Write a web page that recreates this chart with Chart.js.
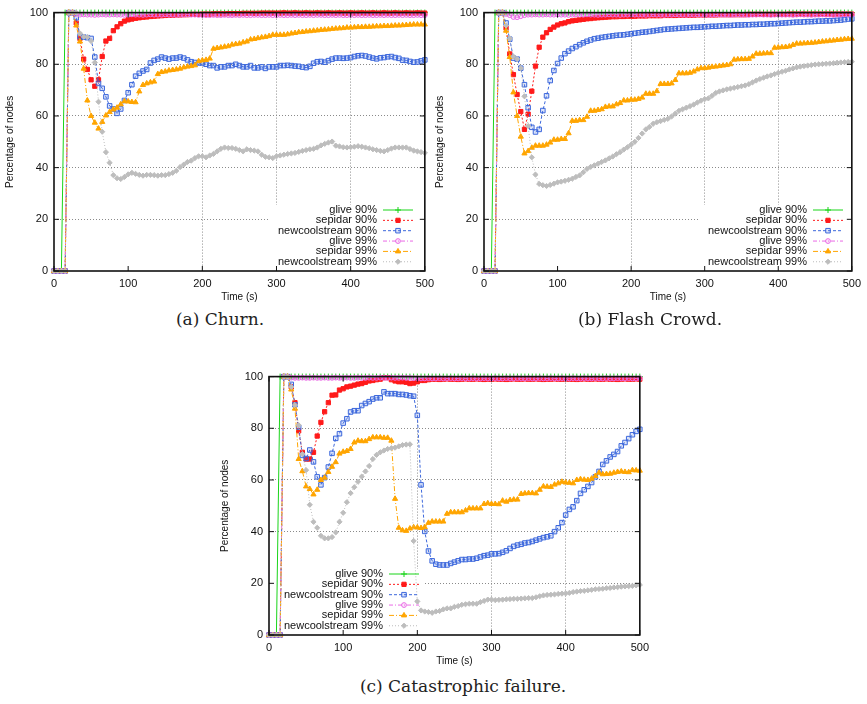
<!DOCTYPE html>
<html>
<head>
<meta charset="utf-8">
<script src="https://cdn.jsdelivr.net/npm/chart.js@4.4.1/dist/chart.umd.min.js"></script>
<style>
  html, body { margin: 0; padding: 0; background: #fff; }
  body { width: 867px; height: 704px; position: relative; overflow: hidden; }
  canvas { position: absolute; }
  .caption {
    position: absolute;
    font-family: "DejaVu Serif", serif;
    font-size: 17px;
    line-height: 20px;
    color: #222;
    transform: translateX(-50%);
    white-space: nowrap;
  }
</style>
</head>
<body>
<canvas id="chart-churn" width="440" height="305" style="left:0;top:0"></canvas>
<canvas id="chart-flash" width="437" height="305" style="left:430px;top:0"></canvas>
<canvas id="chart-failure" width="440" height="305" style="left:215px;top:364px"></canvas>
<div class="caption" style="left:220px;top:309px">(a) Churn.</div>
<div class="caption" style="left:650px;top:309px">(b) Flash Crowd.</div>
<div class="caption" style="left:463px;top:676px">(c) Catastrophic failure.</div>
<script>
const TIME = [
  0, 5, 10, 15, 20, 25, 30, 35, 40, 45,
  50, 55, 60, 65, 70, 75, 80, 85, 90, 95,
  100, 105, 110, 115, 120, 125, 130, 135, 140, 145,
  150, 155, 160, 165, 170, 175, 180, 185, 190, 195,
  200, 205, 210, 215, 220, 225, 230, 235, 240, 245,
  250, 255, 260, 265, 270, 275, 280, 285, 290, 295,
  300, 305, 310, 315, 320, 325, 330, 335, 340, 345,
  350, 355, 360, 365, 370, 375, 380, 385, 390, 395,
  400, 405, 410, 415, 420, 425, 430, 435, 440, 445,
  450, 455, 460, 465, 470, 475, 480, 485, 490, 495,
  500
];
const X_TICKS = [0, 100, 200, 300, 400, 500];
const Y_TICKS = [0, 20, 40, 60, 80, 100];
const SERIES_LABELS = [
  "glive 90%", "sepidar 90%", "newcoolstream 90%",
  "glive 99%", "sepidar 99%", "newcoolstream 99%"
];

// glive 90% is the same step in all three runs
const GLIVE90 = [
  0, 0, 0, 100, 100, 100, 100, 100, 100, 100,
  100, 100, 100, 100, 100, 100, 100, 100, 100, 100,
  100, 100, 100, 100, 100, 100, 100, 100, 100, 100,
  100, 100, 100, 100, 100, 100, 100, 100, 100, 100,
  100, 100, 100, 100, 100, 100, 100, 100, 100, 100,
  100, 100, 100, 100, 100, 100, 100, 100, 100, 100,
  100, 100, 100, 100, 100, 100, 100, 100, 100, 100,
  100, 100, 100, 100, 100, 100, 100, 100, 100, 100,
  100, 100, 100, 100, 100, 100, 100, 100, 100, 100,
  100, 100, 100, 100, 100, 100, 100, 100, 100, 100,
  100
];

// (a) churn
const CHURN_SEPIDAR90 = [
  0, 0, 0, 0, 100, 100, 96, 90, 82, 78,
  74, 71.5, 74, 83, 89, 90, 93, 94.5, 95.7, 96.7,
  97.2, 97.5, 97.8, 98, 98.2, 98.3, 98.5, 98.6, 98.7, 98.8,
  98.9, 99, 99, 99.1, 99.1, 99.2, 99.2, 99.3, 99.3, 99.3,
  99.4, 99.4, 99.4, 99.5, 99.5, 99.5, 99.5, 99.6, 99.6, 99.6,
  99.6, 99.7, 99.7, 99.7, 99.7, 99.7, 99.8, 99.8, 99.8, 99.8,
  99.8, 99.8, 99.9, 99.8, 99.8, 99.9, 99.8, 99.8, 99.9, 99.8,
  99.8, 99.9, 99.8, 99.8, 99.9, 99.8, 99.8, 99.9, 99.8, 99.8,
  99.9, 99.8, 99.8, 99.9, 99.8, 99.8, 99.9, 99.8, 99.8, 99.9,
  99.8, 99.8, 99.9, 99.8, 99.8, 99.9, 99.8, 99.8, 99.9, 99.8,
  99.8
];
const CHURN_NCS90 = [
  0, 0, 0, 0, 100, 100, 98, 90.7, 90.5, 90.3,
  90, 82.8, 72.6, 70.7, 67.4, 63.9, 62.7, 61, 62.7, 66,
  69, 72.1, 75.4, 76.5, 77.4, 78, 80.5, 81.5, 82, 82.8,
  82.4, 82, 82.4, 82.4, 82.8, 82.4, 81.7, 81, 80.7, 80.5,
  80.5, 80, 79.5, 79.5, 78.6, 79, 79, 79.5, 79.5, 80,
  79.5, 79, 79, 79.5, 78.6, 78.6, 79, 78.4, 79, 79,
  79, 79.5, 79.5, 79.6, 79.5, 79.3, 79.2, 78.9, 78.7, 79.2,
  80.4, 81, 81.1, 80.8, 81.4, 82, 82.4, 82.4, 82.3, 82.4,
  82.6, 83, 83.3, 83.4, 83.2, 82.8, 82.4, 82.1, 82.5, 82.6,
  82.9, 83, 82.6, 82.3, 81.6, 81.5, 81.1, 80.8, 80.9, 81.3,
  81.7
];
const CHURN_GLIVE99 = [
  0, 0, 0, 0, 100, 100, 99.5, 99.2, 99.3, 99.2,
  99.2, 99.1, 99.2, 99.3, 99.2, 99.2, 99.3, 99.2, 99.2, 99.1,
  99.2, 99.3, 99.2, 99.2, 99.1, 99.2, 99.3, 99.2, 99.2, 99.2,
  99.3, 99.2, 99.2, 99.1, 99.2, 99.2, 99.3, 99.2, 99.2, 99.1,
  99.1, 99, 99, 99.1, 99, 99, 99.1, 99, 99, 99.1,
  99, 99.1, 99, 99, 99.1, 99.1, 99, 99, 99.1, 99,
  99, 99.1, 99, 99, 99.1, 99, 99.1, 99, 99, 99.1,
  99, 99.1, 99.1, 99, 99, 99.1, 99, 99.1, 99, 99,
  99.1, 99, 99.1, 99, 99, 99.1, 99, 99, 99.1, 99,
  99.1, 99, 99, 99.1, 99, 99.1, 99, 99, 99.1, 99,
  99
];
const CHURN_SEPIDAR99 = [
  0, 0, 0, 0, 100, 100, 95, 88.8, 78.3, 66,
  60, 57.4, 55.1, 57.7, 60.2, 61.5, 62.5, 63.2, 64.5, 65.7,
  65.6, 65.4, 65.3, 69.5, 72, 72.6, 73, 73.3, 76.2, 77,
  77.2, 77.6, 77.8, 78, 78.3, 78.8, 79.1, 79.3, 79.6, 81.2,
  81.5, 81.7, 82.2, 86, 86.3, 86.5, 86.8, 87, 87.6, 87.8,
  88, 88.5, 88.8, 89.6, 89.8, 90.1, 90.4, 90.6, 90.9, 91.4,
  91.4, 91.4, 91.4, 91.6, 91.9, 92.1, 92.4, 92.5, 92.7, 92.8,
  93, 93.1, 93.3, 93.4, 93.5, 93.7, 93.8, 93.9, 94, 94.2,
  94.2, 94.3, 94.4, 94.4, 94.5, 94.5, 94.6, 94.7, 94.7, 94.8,
  94.8, 94.9, 95, 95, 95.1, 95.2, 95.3, 95.4, 95.4, 95.4,
  95.4
];
const CHURN_NCS99 = [
  0, 0, 0, 0, 100, 100, 100, 92, 90.7, 90.5,
  89, 80.7, 65.5, 53.9, 46, 41.9, 37.1, 35.9, 35.6, 36.4,
  37.4, 38, 37.6, 37.2, 36.9, 37.2, 37.2, 37.1, 36.9, 37.1,
  37.1, 37.5, 38, 38.8, 40.2, 41.2, 42.2, 42.7, 43.7, 44.4,
  44.4, 44, 44.7, 45.3, 46.3, 47.3, 47.8, 47.6, 47.6, 47.3,
  46.8, 46.3, 47.1, 46.8, 46.6, 46.3, 45, 44.2, 44, 43.7,
  44.4, 44.7, 45, 45.3, 45.5, 45.7, 46.1, 46.5, 46.8, 47.1,
  47.3, 47.8, 48.6, 49.2, 49.7, 50.1, 48.5, 48.2, 47.9, 47.8,
  47.9, 48.1, 48.3, 48.1, 47.8, 47.5, 47.1, 46.8, 46.5, 46.3,
  46.8, 47.4, 47.8, 47.8, 47.8, 47.8, 47.2, 46.6, 46.3, 46,
  45.7
];

// (b) flash crowd
const FLASH_SEPIDAR90 = [
  0, 0, 0, 0, 100, 100, 94, 84, 76, 68.3,
  61.7, 54.8, 60.7, 69.6, 79.3, 86.6, 90.5, 92.2, 93.5, 94.4,
  95.2, 95.7, 96, 96.5, 96.8, 97, 97.2, 97.4, 97.6, 97.7,
  97.9, 98, 98.1, 98.2, 98.3, 98.4, 98.4, 98.5, 98.5, 98.6,
  98.6, 98.6, 98.7, 98.7, 98.7, 98.8, 98.8, 98.8, 98.8, 98.9,
  98.9, 98.9, 98.9, 99, 99, 99, 99, 99, 99.1, 99.1,
  99.1, 99.1, 99.1, 99.1, 99.2, 99.2, 99.2, 99.2, 99.2, 99.2,
  99.2, 99.2, 99.3, 99.3, 99.3, 99.3, 99.3, 99.3, 99.3, 99.3,
  99.3, 99.3, 99.3, 99.4, 99.4, 99.4, 99.4, 99.4, 99.4, 99.4,
  99.4, 99.4, 99.4, 99.4, 99.4, 99.4, 99.4, 99.4, 99.4, 99.4,
  99.4
];
const FLASH_NCS90 = [
  0, 0, 0, 0, 100, 100, 96, 89.7, 82.4, 82,
  78.5, 72.1, 63.2, 55.6, 53.8, 54.8, 62.1, 67.8, 73.7, 77.6,
  80.3, 82.4, 84.1, 85.1, 86.1, 86.8, 87.6, 88.3, 88.9, 89.4,
  89.9, 90.1, 90.4, 90.6, 90.8, 91, 91.2, 91.3, 91.4, 91.6,
  91.8, 92, 92.2, 92.4, 92.5, 92.7, 92.9, 93.1, 93.3, 93.5,
  93.6, 93.7, 93.8, 93.9, 94, 94.1, 94.2, 94.3, 94.3, 94.4,
  94.5, 94.6, 94.7, 94.7, 94.8, 94.9, 95, 95, 95.1, 95.2,
  95.2, 95.3, 95.3, 95.4, 95.4, 95.5, 95.5, 95.6, 95.7, 95.7,
  95.8, 95.9, 96, 96.1, 96.2, 96.3, 96.3, 96.4, 96.5, 96.5,
  96.6, 96.7, 96.7, 96.8, 96.8, 96.9, 97, 97.1, 97.3, 97.5,
  97.6
];
const FLASH_GLIVE99 = [
  0, 0, 0, 0, 100, 100, 99.5, 99, 98.3, 98.2,
  98.6, 99, 99.2, 99.2, 99.3, 99.2, 99.2, 99.3, 99.2, 99.2,
  99.3, 99.2, 99.2, 99.1, 99.2, 99.3, 99.2, 99.2, 99.3, 99.2,
  99.2, 99.1, 99.2, 99.2, 99.3, 99.2, 99.2, 99.1, 99.2, 99.2,
  99.3, 99.2, 99.2, 99.2, 99.1, 99.2, 99.3, 99.2, 99.2, 99.1,
  99.2, 99.2, 99.3, 99.2, 99.2, 99.1, 99.2, 99.2, 99.3, 99.2,
  99.2, 99.1, 99.2, 99.3, 99.2, 99.2, 99.2, 99.1, 99.2, 99.3,
  99.2, 99.2, 99.1, 99.2, 99.2, 99.3, 99.2, 99.2, 99.1, 99.2,
  99.3, 99.2, 99.2, 99.2, 99.1, 99.2, 99.3, 99.2, 99.2, 99.1,
  99.2, 99.2, 99.3, 99.2, 99.2, 99.1, 99.2, 99.2, 99.3, 99.2,
  99.2
];
const FLASH_SEPIDAR99 = [
  0, 0, 0, 0, 100, 100, 93, 82.8, 69.1, 60,
  52, 45.5, 46.4, 47.7, 48.5, 48.5, 48.5, 48.9, 49.7, 50.8,
  50.8, 51.1, 51.1, 53.3, 58.1, 58.1, 58.4, 58.4, 59.7, 62,
  62, 62.3, 62.6, 63.5, 63.7, 63.7, 64.5, 65, 66, 66,
  66.3, 66.3, 66.6, 67.1, 68.6, 68.6, 68.6, 69.6, 72.4, 72.4,
  72.4, 72.6, 73.9, 76.5, 76.5, 76.5, 76.7, 77.2, 78, 78.5,
  78.5, 78.7, 79, 79.1, 79.3, 79.5, 79.7, 80, 81.8, 81.9,
  82, 82, 82.1, 83, 84.1, 84.1, 84.2, 84.3, 84.3, 86.4,
  86.5, 86.6, 86.7, 86.9, 87.5, 88, 88, 88.1, 88.2, 88.3,
  88.4, 88.6, 88.8, 88.9, 89.1, 89.2, 89.4, 89.5, 89.7, 89.8,
  89.9
];
const FLASH_NCS99 = [
  0, 0, 0, 0, 100, 100, 95, 90, 83, 82,
  78.5, 67.6, 56.1, 44, 37.3, 33.7, 33.2, 32.9, 33.3, 33.8,
  34.3, 34.6, 34.9, 35.3, 35.7, 36.4, 37, 38.2, 39.5, 40.3,
  40.9, 41.5, 42.2, 42.8, 43.6, 44.3, 45.2, 46, 47, 47.9,
  48.9, 50, 51.5, 53.2, 54.8, 55.8, 57, 57.6, 58, 58.5,
  58.9, 59.8, 60.9, 62, 62.6, 63.2, 63.8, 64.4, 65.2, 65.9,
  66.5, 66.8, 67.8, 68.9, 69.5, 69.9, 70.3, 70.6, 70.9, 71.2,
  71.5, 71.8, 72.3, 73, 73.7, 74.3, 74.8, 75.3, 75.7, 76.2,
  76.7, 77.1, 77.5, 78, 78.4, 78.8, 79.1, 79.3, 79.5, 79.7,
  79.9, 80, 80.1, 80.2, 80.3, 80.4, 80.6, 80.7, 80.8, 80.9,
  81
];

// (c) catastrophic failure
const FAIL_SEPIDAR90 = [
  0, 0, 0, 0, 100, 100, 96, 89.9, 79, 70.7,
  68.1, 68.1, 70.7, 77, 82.3, 86.4, 89.9, 92.8, 92.9, 94.8,
  95.3, 96, 96.3, 96.7, 97.1, 97.3, 97.8, 98.3, 98.5, 98.8,
  99, 99.6, 99.6, 98.8, 98.3, 98, 98, 97.8, 97.3, 97.5,
  98, 98.5, 98.5, 98.8, 99, 99, 98.9, 99, 99.1, 99,
  99, 98.9, 99, 99.1, 99, 99, 99.1, 99, 98.9, 99,
  99, 99.1, 99, 99, 98.9, 99, 99.1, 99, 99, 99.1,
  99, 99, 99.1, 99, 98.9, 99, 99, 99.1, 99, 99,
  99.1, 99, 99, 98.9, 99, 99.1, 99, 99, 99.1, 99,
  99, 99.1, 99, 99, 98.9, 99, 99.1, 99, 99, 99.1,
  99
];
const FAIL_NCS90 = [
  0, 0, 0, 0, 100, 100, 97, 89.1, 80.4, 69.5,
  68.3, 71.6, 67, 61.2, 58.1, 60.9, 65, 70.3, 76.1, 77.9,
  82, 83.7, 86.3, 86.8, 86.8, 88.8, 89.6, 90.3, 91.3, 91.8,
  91.8, 94.1, 93.4, 93.4, 93.4, 93.1, 93.1, 92.9, 92.6, 92.4,
  85, 58.1, 40.1, 32.5, 28.7, 27.4, 27.1, 27.1, 27.1, 27.7,
  28.2, 28.7, 29.2, 29.2, 29.4, 29.4, 29.7, 30.2, 30.7, 30.9,
  31.4, 31.4, 31.5, 32, 32.6, 33.5, 34.3, 34.8, 35.1, 35.6,
  35.8, 36.2, 36.7, 37.2, 37.7, 38, 38.4, 40, 41.5, 43.5,
  46.4, 48.6, 49.6, 52, 54.8, 56.2, 57.5, 59, 61.2, 63.3,
  66, 67.4, 68.9, 69.9, 71, 73.2, 74.5, 76, 77.5, 78.8,
  79.6
];
const FAIL_GLIVE99 = [
  0, 0, 0, 0, 100, 100, 99.6, 99.5, 99.5, 99.6,
  99.5, 99.5, 99.6, 99.5, 99.5, 99.6, 99.5, 99.5, 99.6, 99.5,
  99.5, 99.6, 99.5, 99.5, 99.6, 99.5, 99.5, 99.6, 99.5, 99.5,
  99.6, 99.5, 99.5, 99.6, 99.5, 99.5, 99.6, 99.5, 99.5, 99.4,
  99.4, 99.3, 99.3, 99.4, 99.3, 99.3, 99.4, 99.3, 99.3, 99.4,
  99.3, 99.3, 99.4, 99.3, 99.3, 99.4, 99.3, 99.3, 99.4, 99.3,
  99.3, 99.4, 99.3, 99.3, 99.4, 99.3, 99.3, 99.4, 99.3, 99.3,
  99.4, 99.3, 99.3, 99.4, 99.3, 99.3, 99.4, 99.3, 99.3, 99.4,
  99.3, 99.3, 99.4, 99.3, 99.3, 99.4, 99.3, 99.3, 99.4, 99.3,
  99.3, 99.4, 99.3, 99.3, 99.4, 99.3, 99.3, 99.4, 99.3, 99.3,
  99.4
];
const FAIL_SEPIDAR99 = [
  0, 0, 0, 0, 100, 100, 95, 87.6, 68.1, 63.4,
  57.5, 56.5, 54.4, 56.2, 60, 60.9, 63.1, 65.1, 66.9, 70.2,
  70.9, 71.2, 72, 74.5, 75.2, 75, 75, 75.8, 76.5, 76.5,
  76.5, 76.3, 76.3, 75.2, 52.7, 41.5, 40.5, 40.3, 41.2, 41.7,
  41.6, 41.4, 41.7, 43.4, 43.9, 43.9, 43.9, 43.9, 46.9, 47.5,
  47.5, 47.5, 47.5, 48.2, 49, 49, 49, 49, 50.7, 51,
  50.7, 50.7, 50.6, 52, 51.6, 52.2, 52.4, 52.4, 54.6, 54.8,
  54.9, 54.9, 54.8, 56.2, 57.5, 57.4, 57.3, 58.2, 58.7, 59.3,
  59, 58.9, 58.7, 60, 60.3, 60.1, 60, 60.5, 61.5, 62.8,
  62.2, 62.3, 62.4, 62.8, 63.1, 63.3, 63.1, 63, 63.8, 63.7,
  63.6
];
const FAIL_NCS99 = [
  0, 0, 0, 0, 100, 100, 96, 89, 81.2, 70,
  63.8, 50.4, 43.8, 41.5, 38.4, 37.4, 37.4, 37.9, 39.7, 43.8,
  47.3, 51.4, 54.9, 57.2, 59.3, 61.3, 63.3, 65.4, 68.1, 69.7,
  70.7, 71.4, 72, 72.3, 72.5, 73, 73.5, 73.7, 73.8, 36.4,
  13, 9.5, 9.1, 8.9, 8.6, 9.1, 9.3, 9.9, 10.3, 10.3,
  10.9, 11.2, 11.7, 11.9, 12.1, 12.1, 12.1, 12.7, 13.2, 13.7,
  13.7, 13.5, 13.6, 13.7, 13.8, 13.9, 14, 14, 14.1, 14.2,
  14.3, 14.3, 14.6, 15, 15.3, 15.5, 15.6, 15.7, 15.9, 16,
  16.1, 16.3, 16.6, 16.8, 17, 17.1, 17.3, 17.5, 17.7, 17.8,
  17.9, 18.1, 18.2, 18.4, 18.5, 18.7, 18.8, 18.9, 19, 19.2,
  19.4
];

// gnuplot-ish line/point styles, same order as SERIES_LABELS
const STYLES = [
  { color: "#19d419", dash: [], point: "cross", radius: 3, fill: "#19d419" },
  { color: "#ff1a1a", dash: [2, 2], point: "rect", radius: 3, fill: "#ff1a1a" },
  { color: "#3d68dc", dash: [3, 2], point: "rect", radius: 3.2, fill: "rgba(61,104,220,0.18)" },
  { color: "#ea6ae6", dash: [4, 2, 1, 2], point: "circle", radius: 2.4, fill: "rgba(234,106,230,0.15)" },
  { color: "#ffa500", dash: [5, 2, 1, 2], point: "triangle", radius: 3, fill: "#ffa500" },
  { color: "#bdbdbd", dash: [1, 2], point: "rectRot", radius: 2.6, fill: "#bdbdbd" }
];

function drawMarker(ctx, style, x, y) {
  const r = style.radius;
  ctx.save();
  ctx.setLineDash([]);
  ctx.lineWidth = 1;
  ctx.strokeStyle = style.color;
  ctx.fillStyle = style.fill;
  ctx.beginPath();
  if (style.point === "cross") {
    ctx.moveTo(x - r, y); ctx.lineTo(x + r, y);
    ctx.moveTo(x, y - r); ctx.lineTo(x, y + r);
    ctx.stroke();
  } else if (style.point === "rect") {
    const s = r * Math.SQRT1_2;
    ctx.rect(x - s, y - s, 2 * s, 2 * s);
    ctx.fill(); ctx.stroke();
  } else if (style.point === "circle") {
    ctx.arc(x, y, r, 0, Math.PI * 2);
    ctx.fill(); ctx.stroke();
  } else if (style.point === "triangle") {
    ctx.moveTo(x, y - r);
    ctx.lineTo(x + r * 0.866, y + r * 0.5);
    ctx.lineTo(x - r * 0.866, y + r * 0.5);
    ctx.closePath();
    ctx.fill(); ctx.stroke();
  } else {
    ctx.moveTo(x, y - r); ctx.lineTo(x + r, y);
    ctx.lineTo(x, y + r); ctx.lineTo(x - r, y);
    ctx.closePath();
    ctx.fill(); ctx.stroke();
  }
  ctx.restore();
}

// key box, frame and inward ticks like the gnuplot original
const gnuplotFrame = {
  id: "gnuplotFrame",
  beforeDatasetsDraw(chart, args, opts) {
    const a = chart.chartArea;
    const ctx = chart.ctx;
    ctx.save();
    ctx.fillStyle = "#fff";
    ctx.fillRect(a.left + opts.boxLeft, a.bottom - 66, opts.boxRight - opts.boxLeft, 66);
    ctx.restore();
  },
  afterDatasetsDraw(chart, args, opts) {
    const a = chart.chartArea;
    const ctx = chart.ctx;
    const sx = a.left + opts.sampleX;

    ctx.save();
    ctx.font = "11px 'Liberation Sans', Arial, sans-serif";
    ctx.textAlign = "right";
    ctx.textBaseline = "middle";
    SERIES_LABELS.forEach((label, i) => {
      const st = STYLES[i];
      const y = a.bottom - 61 + i * 10.35;
      ctx.fillStyle = "#111";
      ctx.fillText(label, sx - 6, y);
      ctx.strokeStyle = st.color;
      ctx.lineWidth = 1;
      ctx.setLineDash(st.dash);
      ctx.beginPath();
      ctx.moveTo(sx, y);
      ctx.lineTo(sx + 30, y);
      ctx.stroke();
      ctx.setLineDash([]);
      drawMarker(ctx, st, sx + 15, y);
    });

    ctx.strokeStyle = "#111";
    ctx.lineWidth = 1.6;
    ctx.strokeRect(a.left, a.top, a.right - a.left, a.bottom - a.top);

    ctx.lineWidth = 1;
    ctx.beginPath();
    Y_TICKS.forEach((v) => {
      const y = chart.scales.y.getPixelForValue(v);
      ctx.moveTo(a.left, y); ctx.lineTo(a.left + 5, y);
      ctx.moveTo(a.right, y); ctx.lineTo(a.right - 5, y);
    });
    X_TICKS.forEach((v) => {
      const x = chart.scales.x.getPixelForValue(v);
      ctx.moveTo(x, a.bottom); ctx.lineTo(x, a.bottom - 5);
      ctx.moveTo(x, a.top); ctx.lineTo(x, a.top + 5);
    });
    ctx.stroke();
    ctx.restore();
  }
};

function renderChart(id, seriesValues, key, padRight) {
  const canvas = document.getElementById(id);
  const tickFont = { family: "'Liberation Sans', Arial, sans-serif", size: 11 };
  const gridColor = (c) => (c.tick.value === 0 || c.tick.value === 100 || c.tick.value === 500) ? "rgba(0,0,0,0)" : "#8a8a8a";

  const datasets = seriesValues.map((values, i) => {
    const st = STYLES[i];
    return {
      label: SERIES_LABELS[i],
      data: TIME.map((t, k) => ({ x: t, y: values[k] })),
      borderColor: st.color,
      borderWidth: 1,
      borderDash: st.dash,
      pointStyle: st.point,
      pointRadius: st.radius,
      pointBorderWidth: 1,
      pointBorderColor: st.color,
      pointBackgroundColor: st.fill,
      tension: 0,
      fill: false,
      clip: 4,
      order: 6 - i
    };
  });

  return new Chart(canvas.getContext("2d"), {
    type: "line",
    data: { datasets },
    plugins: [gnuplotFrame],
    options: {
      responsive: false,
      animation: false,
      devicePixelRatio: 1,
      events: [],
      layout: { autoPadding: false, padding: { left: 0, top: 8, right: padRight, bottom: 0 } },
      plugins: {
        legend: { display: false },
        tooltip: { enabled: false },
        gnuplotFrame: key
      },
      scales: {
        x: {
          type: "linear",
          min: 0,
          max: 500,
          afterFit: (s) => { s.height = 34; },
          afterBuildTicks: (s) => { s.ticks = X_TICKS.map((v) => ({ value: v })); },
          ticks: { font: tickFont, color: "#111", padding: 6, maxRotation: 0 },
          grid: { color: gridColor, drawTicks: false, lineWidth: 1 },
          border: { display: false, dash: [1, 2] },
          title: { display: true, text: "Time (s)", font: { family: tickFont.family, size: 10 }, color: "#111", padding: { top: 0, bottom: 2 } }
        },
        y: {
          type: "linear",
          min: 0,
          max: 100,
          afterFit: (s) => { s.width = 54; },
          afterBuildTicks: (s) => { s.ticks = Y_TICKS.map((v) => ({ value: v })); },
          ticks: { font: tickFont, color: "#111", padding: 6 },
          grid: { color: gridColor, drawTicks: false, lineWidth: 1 },
          border: { display: false, dash: [1, 2] },
          title: { display: true, text: "Percentage of nodes", font: { family: tickFont.family, size: 10 }, color: "#111", padding: { top: 4, bottom: 0 } }
        }
      }
    }
  });
}

renderChart("chart-churn",
  [GLIVE90, CHURN_SEPIDAR90, CHURN_NCS90, CHURN_GLIVE99, CHURN_SEPIDAR99, CHURN_NCS99],
  { sampleX: 329, boxLeft: 216, boxRight: 372 }, 14);
renderChart("chart-flash",
  [GLIVE90, FLASH_SEPIDAR90, FLASH_NCS90, FLASH_GLIVE99, FLASH_SEPIDAR99, FLASH_NCS99],
  { sampleX: 329, boxLeft: 216, boxRight: 372 }, 11);
renderChart("chart-failure",
  [GLIVE90, FAIL_SEPIDAR90, FAIL_NCS90, FAIL_GLIVE99, FAIL_SEPIDAR99, FAIL_NCS99],
  { sampleX: 120, boxLeft: 0, boxRight: 154 }, 15);
</script>
</body>
</html>
